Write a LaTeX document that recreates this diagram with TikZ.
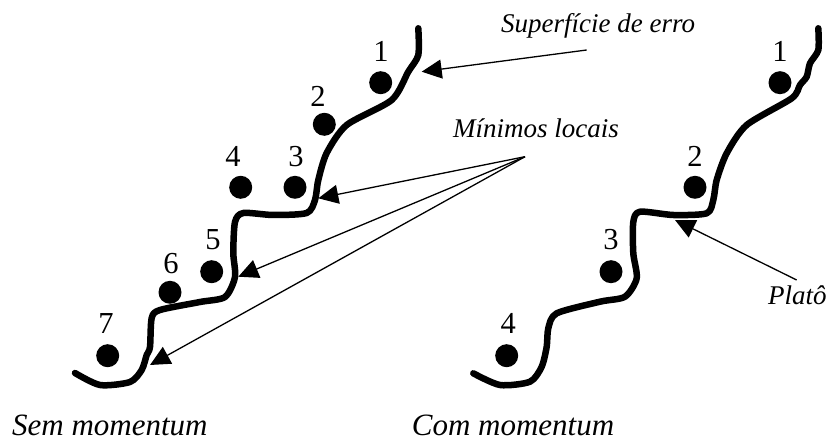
\documentclass[tikz,border=0pt]{standalone}
\usepackage{fontspec}
\setmainfont{Liberation Serif}
\usetikzlibrary{arrows.meta}
\begin{document}
\begin{tikzpicture}[x=1pt,y=-1pt,
  surface/.style={line width=6.5pt, line cap=round, line join=round},
  ball/.style={circle, fill=black, minimum size=23pt, inner sep=0pt},
  num/.style={anchor=base, inner sep=0pt, font=\fontsize{30.5}{33}\selectfont},
  lab/.style={anchor=base west, inner sep=0pt, font=\fontsize{27}{30}\selectfont\itshape},
  caption/.style={anchor=base west, inner sep=0pt, font=\fontsize{31}{34}\selectfont\itshape},
  pointer/.style={line width=1.3pt, -{Triangle[length=20pt,width=19pt]}}]
\useasboundingbox (0,0) rectangle (828,443);
% left surface
\draw[surface] plot[smooth, tension=0.45] coordinates {
  (418.3,28.3) (418.3,55) (408.3,71.7) (391.7,100) (346.7,125) (326.7,153)
  (318.3,180) (315,200) (306.7,213) (273.3,215) (243.3,213) (235,222)
  (233.3,253) (235,277) (225,297) (200,302) (160,310) (151.7,318)
  (150,347) (146.7,355) (141.7,370) (130,382) (100,385) (75,373)};
% right surface
\draw[surface] plot[smooth, tension=0.45] coordinates {
  (818.3,28.3) (818.3,50) (810,63.3) (806.7,76.7) (800,85) (791.7,98.3)
  (746.7,125) (726.7,153.3) (716.7,180) (713.3,200) (706.7,213.3) (673.3,215)
  (640,211.7) (633.3,222) (633.3,253.3) (636.7,278.3) (625,296.7) (600,301.7)
  (556.7,313.3) (548.3,328.3) (546.7,346.7) (541.7,366.7) (530,381.7)
  (500,385) (473.3,373.3)};
% balls left
\node[ball] (b1) at (380.7,82.7) {};
\node[ball] (b2) at (324.3,124.3) {};
\node[ball] (b3) at (295,187.3) {};
\node[ball] (b4) at (240.7,187.3) {};
\node[ball] (b5) at (211.7,271.7) {};
\node[ball] (b6) at (170,292.3) {};
\node[ball] (b7) at (107.7,355.7) {};
\node[num] (n1) at (381,61.7) {1};
\node[num] (n2) at (318,106.7) {2};
\node[num] (n3) at (296,166.7) {3};
\node[num] (n4) at (233,166.7) {4};
\node[num] (n5) at (213,250) {5};
\node[num] (n6) at (171,273.3) {6};
\node[num] (n7) at (106,333.3) {7};
% balls right
\node[ball] (c1) at (780,82.7) {};
\node[ball] (c2) at (695,187.3) {};
\node[ball] (c3) at (611,271.7) {};
\node[ball] (c4) at (506.7,355.7) {};
\node[num] (m1) at (780,61.7) {1};
\node[num] (m2) at (695,166.7) {2};
\node[num] (m3) at (611,250) {3};
\node[num] (m4) at (508.3,333.3) {4};
% labels
\node[lab] (sup) at (501,33) {Superfície de erro};
\node[lab] (min) at (453,138) {Mínimos locais};
\node[lab] (pla) at (768,305) {Platô};
\node[caption] (sem) at (12,436) {Sem momentum};
\node[caption] (com) at (411.7,436) {Com momentum};
% arrow ends
\coordinate (supT) at (586.7,50);
\coordinate (supH) at (421.7,71.7);
\coordinate (minT) at (525,156.7);
\coordinate (minH1) at (318.3,198.3);
\coordinate (minH2) at (238.3,276.7);
\coordinate (minH3) at (150,365);
\coordinate (plaT) at (796.7,280);
\coordinate (plaH) at (675,220);
\draw[pointer] (supT) -- (supH);
\draw[pointer] (minT) -- (minH1);
\draw[pointer] (minT) -- (minH2);
\draw[pointer] (minT) -- (minH3);
\draw[pointer] (plaT) -- (plaH);
\end{tikzpicture}
\end{document}
